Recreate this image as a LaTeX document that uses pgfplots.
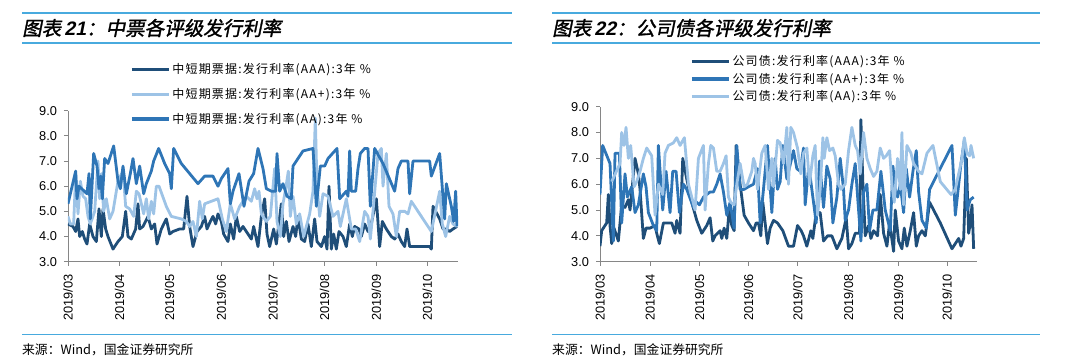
\documentclass[border=0pt]{standalone}
\usepackage{pgfplots}
\pgfplotsset{compat=1.18}
\usepackage{fontspec}
\setmainfont{Liberation Sans}
\newfontfamily\cjk{Noto Sans CJK SC}
\newfontfamily\cjkleg[LetterSpace=10]{Noto Sans CJK SC}
\newfontfamily\cjktitle[FakeSlant=0.2,FakeBold=1.5]{Noto Sans CJK SC}
\newfontfamily\latitle[FakeSlant=0.2]{Liberation Sans Bold}
\definecolor{cdark}{RGB}{31,78,121}
\definecolor{cmid}{RGB}{46,117,182}
\definecolor{clight}{RGB}{157,195,230}
\definecolor{tline}{RGB}{72,170,222}
\definecolor{axgray}{RGB}{134,134,134}
\pgfplotsset{
  myaxis/.style={
    scale only axis, ymin=3, ymax=9,
    ytick={3,4,5,6,7,8,9},
    axis x line*=bottom, axis y line*=left,
    axis line style={axgray, line width=0.8pt},
    tick style={axgray, line width=0.8pt},
    tick align=outside, major tick length=4pt,
    /pgf/number format/assume math mode=true,
    yticklabel style={font=\fontsize{12.8}{14}\selectfont, xshift=-3.5pt, /pgf/number format/.cd, fixed, fixed zerofill, precision=1},
    xticklabel style={font=\fontsize{12.8}{14}\selectfont, rotate=90, anchor=east, xshift=-5pt},
    xticklabels={2019/03,2019/04,2019/05,2019/06,2019/07,2019/08,2019/09,2019/10},
    legend style={draw=none, fill=none, font=\cjkleg\fontsize{12}{14}\selectfont, cells={anchor=west}, inner sep=0pt},
    legend image code/.code={\draw[#1, line width=3.2pt] (0pt,0pt) -- (37pt,0pt);},
    every axis plot/.append style={line width=2.8pt, line join=round, mark=none},
  }
}
\begin{document}
\begin{tikzpicture}[x=1pt,y=1pt]
\useasboundingbox (0,0) rectangle (1080,363);
% title bars
\draw[tline, line width=1.5pt] (22,350) -- (512,350);
\draw[tline, line width=1.5pt] (22,320) -- (512,320);
\draw[tline, line width=1.5pt] (552,350) -- (1040,350);
\draw[tline, line width=1.5pt] (552,320) -- (1040,320);
\draw[tline, line width=1pt] (22,28) -- (512,28);
\draw[tline, line width=1pt] (552,28) -- (1040,28);
\node[anchor=west, inner sep=0pt] at (22,335) {\cjktitle\fontsize{19.5}{22}\selectfont 图表\,{\latitle 21}：中票各评级发行利率};
\node[anchor=west, inner sep=0pt] at (552,335) {\cjktitle\fontsize{19.5}{22}\selectfont 图表\,{\latitle 22}：公司债各评级发行利率};
\node[anchor=west, inner sep=0pt] at (22,13) {\cjk\fontsize{12.8}{15}\selectfont 来源：Wind，国金证券研究所};
\node[anchor=west, inner sep=0pt] at (552,13) {\cjk\fontsize{12.8}{15}\selectfont 来源：Wind，国金证券研究所};

\begin{axis}[myaxis, at={(68pt,101.3pt)}, anchor=south west, width=390pt, height=151pt,
  xmin=205, xmax=1375, xtick={205,360,510,665,820,975,1130,1283},
  legend style={at={(0.159,1.325)}, anchor=north west, row sep=9pt}]
\addplot[cdark] coordinates {
(205,4.5)(220,4.4)(228,4.2)(235,4.7)(240,4.0)(248,4.2)(255,3.9)(262,3.7)(270,4.5)(280,4.0)(290,3.8)(298,5.1)(305,4.0)(310,5.1)(318,4.3)(325,4.0)(340,3.5)(355,3.8)(368,4.0)(378,5.0)(385,4.0)(395,3.9)(408,4.3)(415,5.3)(420,4.3)(430,4.4)(445,4.8)(455,4.3)(465,4.5)(472,3.7)(485,4.3)(500,4.7)(510,4.1)(520,4.2)(540,4.3)(552,4.3)(562,5.6)(570,4.4)(580,3.6)(592,4.2)(605,4.4)(615,4.8)(622,4.3)(632,4.6)(640,4.8)(648,4.5)(655,4.9)(665,4.6)(672,4.1)(685,3.8)(692,4.5)(702,3.9)(710,4.8)(720,4.2)(730,4.4)(745,4.1)(755,3.9)(762,4.4)(775,3.6)(785,4.8)(795,5.5)(802,4.1)(810,3.6)(822,4.3)(830,3.7)(845,5.3)(852,4.0)(860,4.6)(868,3.8)(880,4.4)(888,4.0)(895,4.8)(905,3.9)(915,3.8)(925,4.5)(935,3.6)(945,4.7)(952,3.8)(965,3.6)(975,4.0)(982,3.5)(988,6.0)(995,3.5)(1002,4.1)(1010,3.5)(1018,4.2)(1030,4.0)(1040,3.6)(1050,4.5)(1058,4.0)(1065,4.4)(1078,4.3)(1085,4.0)(1095,4.5)(1105,4.2)(1112,4.3)(1130,5.5)(1140,3.6)(1148,4.6)(1160,4.3)(1175,4.0)(1185,3.9)(1195,4.1)(1205,3.8)(1215,3.6)(1222,4.3)(1230,3.6)(1290,3.6)(1295,3.5)(1300,5.2)(1308,5.0)(1320,4.7)(1330,4.3)(1340,4.3)(1350,4.2)(1360,4.3)(1372,4.4)
};
\addlegendentry{中短期票据:发行利率(AAA):3年 \%}
\addplot[clight] coordinates {
(205,4.8)(212,4.5)(222,4.5)(228,6.5)(235,4.9)(242,6.2)(250,5.6)(258,5.5)(265,4.8)(272,4.5)(285,5.0)(295,7.0)(300,5.5)(305,6.5)(312,5.0)(320,5.5)(330,4.7)(340,5.0)(355,6.2)(370,6.6)(378,5.2)(390,5.1)(402,4.8)(410,5.8)(418,5.7)(425,5.3)(432,4.9)(440,5.5)(447,4.7)(455,5.4)(462,4.9)(470,6.0)(478,6.0)(500,5.2)(515,4.8)(545,4.7)(560,4.6)(570,4.4)(580,4.6)(590,4.0)(600,5.4)(608,4.7)(615,5.3)(655,5.5)(668,4.7)(680,4.2)(692,5.3)(705,4.7)(720,5.2)(740,5.6)(755,5.4)(765,5.9)(772,5.5)(778,5.8)(785,4.9)(800,4.6)(812,4.8)(825,6.7)(832,4.6)(842,4.0)(850,5.3)(858,5.9)(866,6.6)(872,4.8)(880,5.6)(890,4.5)(900,4.9)(912,4.0)(930,4.9)(940,5.8)(947,8.7)(952,6.0)(960,4.8)(970,5.7)(985,5.6)(1000,4.8)(1015,5.0)(1022,4.4)(1040,5.5)(1055,4.3)(1068,4.3)(1080,3.8)(1095,5.0)(1105,4.8)(1112,3.9)(1120,5.0)(1135,7.3)(1145,7.5)(1150,6.0)(1160,7.3)(1168,5.2)(1180,4.9)(1190,4.0)(1200,5.0)(1215,5.0)(1225,4.9)(1235,5.4)(1295,4.2)(1320,5.8)(1328,4.5)(1338,4.0)(1350,4.8)(1360,4.5)(1372,4.4)
};
\addlegendentry{中短期票据:发行利率(AA+):3年 \%}
\addplot[cmid] coordinates {
(205,5.3)(228,6.6)(232,5.5)(238,6.0)(262,5.7)(268,6.5)(272,4.7)(282,7.3)(292,6.8)(298,5.9)(303,6.4)(308,5.5)(315,7.1)(325,6.9)(342,7.6)(355,6.2)(362,5.9)(370,6.8)(380,5.7)(392,6.5)(400,7.1)(410,6.1)(420,6.8)(432,5.7)(440,6.1)(455,6.6)(462,7.0)(477,7.5)(495,6.9)(510,6.5)(515,5.9)(522,7.5)(545,6.9)(595,6.1)(615,6.4)(640,6.4)(655,6.0)(665,6.3)(685,6.7)(692,5.3)(700,5.8)(718,6.5)(733,5.2)(748,6.2)(762,6.5)(775,7.5)(790,6.7)(800,5.9)(815,5.8)(828,5.8)(832,7.3)(840,5.8)(850,6.1)(862,5.6)(875,5.5)(880,6.8)(910,7.4)(940,7.5)(950,5.2)(962,6.8)(975,6.8)(985,7.1)(1012,7.5)(1020,5.5)(1040,5.8)(1045,5.6)(1050,7.4)(1055,5.8)(1068,5.8)(1075,6.7)(1082,7.3)(1095,7.5)(1105,7.5)(1112,5.2)(1125,7.5)(1150,6.9)(1185,5.8)(1195,6.7)(1205,7.0)(1225,7.0)(1230,5.7)(1240,7.0)(1290,7.0)(1295,6.4)(1320,7.3)(1335,4.7)(1340,6.1)(1355,5.2)(1362,4.6)(1368,5.8)(1372,4.4)
};
\addlegendentry{中短期票据:发行利率(AA):3年 \%}
\end{axis}

\begin{axis}[myaxis, at={(600pt,101.3pt)}, anchor=south west, width=377pt, height=155pt,
  xmin=180, xmax=1310, xtick={180,330,478,625,773,925,1075,1220},
  legend style={at={(0.239,1.345)}, anchor=north west, row sep=2pt}]
\addplot[cdark] coordinates {
(180,3.6)(185,4.2)(200,4.5)(205,5.6)(210,4.4)(215,3.7)(222,4.3)(235,3.8)(245,5.2)(255,5.1)(265,5.4)(270,5.0)(285,7.0)(295,6.4)(300,5.8)(310,3.9)(318,4.3)(330,4.3)(345,4.4)(350,4.1)(358,3.7)(370,4.5)(385,4.5)(395,4.5)(405,4.1)(410,4.6)(420,4.1)(428,7.0)(440,6.2)(455,5.3)(470,4.6)(485,4.1)(500,4.4)(510,4.7)(518,3.8)(525,4.0)(540,4.2)(545,3.9)(552,4.3)(560,3.9)(567,5.0)(575,4.4)(582,4.2)(588,7.5)(600,6.0)(612,4.8)(625,4.5)(640,4.2)(648,4.5)(655,4.5)(662,4.0)(668,5.3)(675,4.5)(682,3.7)(690,4.3)(700,4.6)(712,4.5)(728,4.2)(745,3.6)(760,3.6)(772,4.4)(783,4.2)(790,4.0)(800,3.6)(812,4.2)(818,3.9)(828,4.9)(840,4.9)(850,3.8)(862,4.0)(875,4.0)(890,3.5)(905,3.9)(918,4.7)(925,3.5)(935,3.7)(945,4.1)(958,4.1)(962,8.5)(968,6.0)(975,4.0)(985,4.4)(992,3.9)(1000,4.2)(1012,4.0)(1020,5.6)(1030,4.1)(1040,3.6)(1048,4.5)(1060,3.4)(1065,5.0)(1075,3.8)(1085,3.5)(1092,4.3)(1100,3.6)(1110,4.2)(1120,4.9)(1128,3.6)(1135,4.0)(1145,4.2)(1155,4.0)(1168,5.3)(1200,4.5)(1235,3.5)(1255,3.9)(1262,3.6)(1270,3.9)(1278,7.0)(1285,4.1)(1290,4.5)(1295,5.2)(1300,3.5)
};
\addlegendentry{公司债:发行利率(AAA):3年 \%}
\addplot[cmid] coordinates {
(180,5.6)(188,7.5)(210,6.8)(220,3.8)(225,7.2)(238,7.2)(245,4.5)(255,6.4)(262,5.5)(275,5.9)(285,4.9)(295,5.2)(310,6.4)(318,5.9)(325,4.9)(340,4.4)(350,4.2)(355,7.5)(368,5.0)(378,6.5)(390,4.9)(398,6.5)(408,6.5)(418,4.9)(430,6.0)(440,5.8)(460,5.1)(470,5.3)(478,5.2)(490,5.5)(510,5.7)(520,5.7)(530,6.0)(540,6.4)(550,5.7)(560,4.8)(570,5.3)(582,4.3)(590,7.5)(600,5.8)(612,5.8)(625,5.9)(640,6.0)(652,6.6)(660,4.5)(670,5.8)(682,7.5)(695,4.9)(705,7.0)(712,5.8)(720,6.1)(728,7.5)(740,6.2)(760,7.3)(770,6.6)(780,6.5)(790,7.4)(795,5.2)(805,6.6)(810,6.3)(818,5.5)(828,4.5)(838,6.9)(850,5.1)(860,6.7)(870,6.2)(878,4.5)(890,5.5)(900,7.0)(910,5.8)(915,4.6)(925,5.0)(935,6.0)(945,6.8)(955,5.0)(962,3.8)(970,5.7)(980,6.0)(988,4.2)(998,5.0)(1010,5.0)(1022,6.5)(1035,5.0)(1050,4.2)(1058,6.7)(1065,5.8)(1072,5.5)(1080,6.0)(1090,4.9)(1098,6.6)(1108,5.5)(1118,6.5)(1128,7.3)(1135,5.7)(1145,4.6)(1158,4.3)(1168,5.8)(1235,7.5)(1245,4.8)(1262,6.8)(1272,7.7)(1280,5.0)(1290,5.4)(1300,5.5)
};
\addlegendentry{公司债:发行利率(AA+):3年 \%}
\addplot[clight] coordinates {
(215,6.1)(240,6.8)(245,8.0)(252,7.5)(258,8.2)(265,7.0)(272,7.5)(282,5.9)(290,6.1)(300,6.5)(310,7.0)(320,7.4)(335,7.1)(345,4.8)(355,6.0)(368,5.6)(375,7.2)(385,7.5)(400,7.6)(410,7.8)(420,7.5)(433,7.8)(445,6.0)(455,5.5)(465,5.0)(475,7.0)(490,7.5)(495,5.0)(505,6.8)(512,7.5)(520,7.4)(530,6.5)(540,6.5)(550,6.8)(558,7.1)(565,5.5)(572,5.3)(582,5.2)(590,6.0)(600,6.8)(612,5.9)(622,6.0)(635,6.5)(640,7.0)(645,6.8)(652,5.8)(665,7.2)(675,7.5)(685,5.8)(695,7.0)(700,5.9)(712,7.7)(720,7.6)(730,6.8)(740,8.2)(745,6.0)(752,8.2)(760,8.0)(772,7.4)(782,6.4)(790,7.2)(800,7.4)(808,6.0)(818,7.1)(825,7.5)(832,4.8)(840,5.8)(848,7.8)(852,7.0)(860,7.8)(868,7.3)(878,7.4)(885,7.1)(895,6.0)(902,5.8)(915,6.0)(925,7.3)(935,8.2)(945,7.5)(952,7.3)(960,6.4)(970,8.0)(980,7.0)(990,6.6)(1000,6.3)(1010,6.5)(1020,7.4)(1030,7.0)(1038,7.1)(1048,7.3)(1055,6.0)(1062,5.3)(1072,7.0)(1080,5.8)(1085,8.0)(1090,5.2)(1100,7.5)(1112,7.2)(1120,6.8)(1135,6.5)(1145,6.4)(1160,7.2)(1178,7.5)(1200,6.1)(1232,5.6)(1245,5.8)(1265,7.0)(1272,7.8)(1280,7.2)(1288,7.1)(1292,7.5)(1300,7.0)
};
\addlegendentry{公司债:发行利率(AA):3年 \%}
\end{axis}
\end{tikzpicture}
\end{document}
